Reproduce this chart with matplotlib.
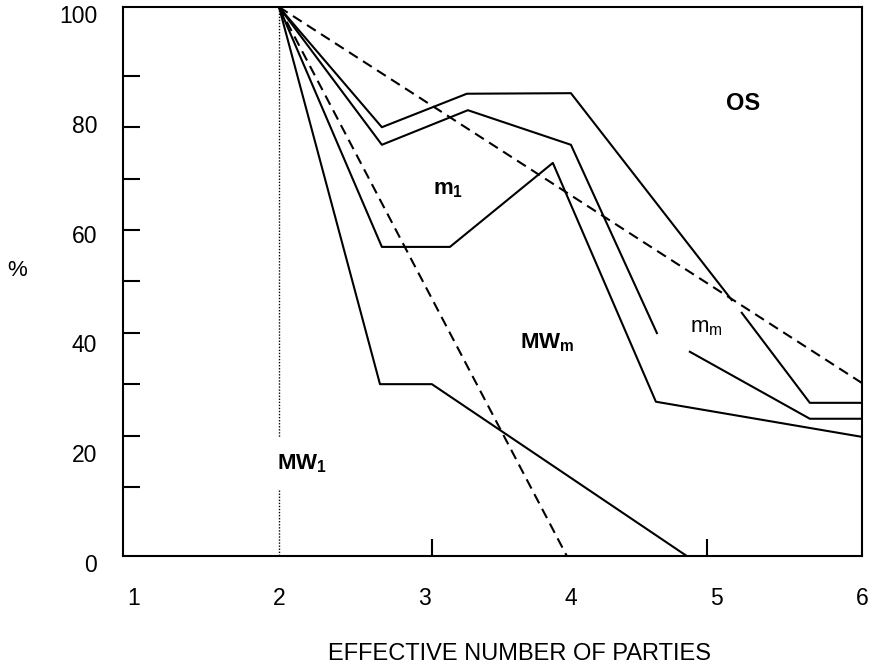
import numpy as np
import matplotlib
matplotlib.use('Agg')
from matplotlib import pyplot as plt
from matplotlib.transforms import ScaledTranslation

plt.rcParams['font.family'] = ['Liberation Sans', 'DejaVu Sans']
plt.rcParams['mathtext.fontset'] = 'custom'
plt.rcParams['mathtext.rm'] = 'Liberation Sans'
plt.rcParams['mathtext.bf'] = 'Liberation Sans:bold'

# upper boundary (OS)
xa = [2.0, 2.706, 3.289, 4.003, 5.107, np.nan, 5.175, 5.642, 6.0]
ya = [100, 78.1, 84.2, 84.3, 46.6, np.nan, 44.3, 27.9, 27.9]
# second line (m_m upper)
xb = [2.0, 2.706, 3.296, 4.003, 4.593, np.nan, 4.819, 5.642, 6.0]
yb = [100, 74.9, 81.2, 74.9, 40.6, np.nan, 37.2, 25.0, 25.0]
# m_1 lower boundary
xc = [2.0, 2.706, 3.173, 3.879, 4.586, 6.0]
yc = [100, 56.3, 56.3, 71.6, 28.1, 21.7]
# MW_m lower boundary
xd = [2.0, 2.693, 3.049, 4.798]
yd = [100, 31.3, 31.3, 0]
# dashed lines
xe = [2.0, 6.0]
ye = [100, 31.5]
xf = [2.0, 3.975]
yf = [100, 0]
# dotted vertical at 2
xv = [2.0, 2.0, np.nan, 2.0, 2.0]
yv = [100, 21.7, np.nan, 12.0, 0]

xticks = [1, 2, 3, 4, 5, 6]
yticks = [0, 20, 40, 60, 80, 100]

fig = plt.figure(figsize=(8.73, 6.65), dpi=100)
ax = fig.add_axes([0.1409, 0.1639, 0.8465, 0.8256])

lw = 1.5
ax.plot(xa, ya, color='black', lw=lw)
ax.plot(xb, yb, color='black', lw=lw)
ax.plot(xc, yc, color='black', lw=lw)
ax.plot(xd, yd, color='black', lw=lw)
ax.plot(xe, ye, color='black', lw=lw, dashes=(5, 3))
ax.plot(xf, yf, color='black', lw=lw, dashes=(5, 3))
ax.plot(xv, yv, color='black', lw=1.0, linestyle=(0, (1, 1.2)))

# region labels
ax.text(5.182, 82.5, 'OS', fontsize=17, fontweight='bold', ha='center', va='center')
ax.text(3.16, 66.7, r'$\mathbf{m}_\mathbf{1}$', fontsize=16, ha='center', va='center')
ax.text(3.84, 38.8, r'$\mathbf{MW}_\mathbf{m}$', fontsize=16, ha='center', va='center')
ax.text(4.935, 41.7, r'$\mathrm{m}_\mathrm{m}$', fontsize=16, ha='center', va='center')
ax.text(2.158, 16.9, r'$\mathbf{MW}_\mathbf{1}$', fontsize=16, ha='center', va='center')

ax.set_xlim(0.93, 6.0)
ax.set_ylim(0, 100)
ax.set_xticks(xticks)
ax.set_yticks(yticks)
ax.set_xticks([3.05, 4.94], minor=True)
ax.set_yticks([87.4, 78.1, 68.7, 59.4, 50.1, 40.6, 31.3, 21.9, 12.6], minor=True)
ax.tick_params(which='major', length=0, labelsize=16.5)
ax.tick_params(axis='x', which='major', pad=22)
ax.tick_params(axis='y', which='major', pad=18.5)
ax.tick_params(which='minor', direction='in', length=12, width=1.5)

# the y labels sit a little below their tick values in the original
shift = ScaledTranslation(0, -7 / 100, fig.dpi_scale_trans)
for lab in ax.get_yticklabels():
    lab.set_transform(lab.get_transform() + shift)

for s in ax.spines.values():
    s.set_linewidth(1.5)

ax.set_xlabel('EFFECTIVE NUMBER OF PARTIES', fontsize=17)
ax.xaxis.set_label_coords(0.537, -0.158)
ax.set_ylabel('%', fontsize=16, rotation=0)
ax.yaxis.set_label_coords(-0.143, 0.50)

fig.savefig('out.png', dpi=100)
